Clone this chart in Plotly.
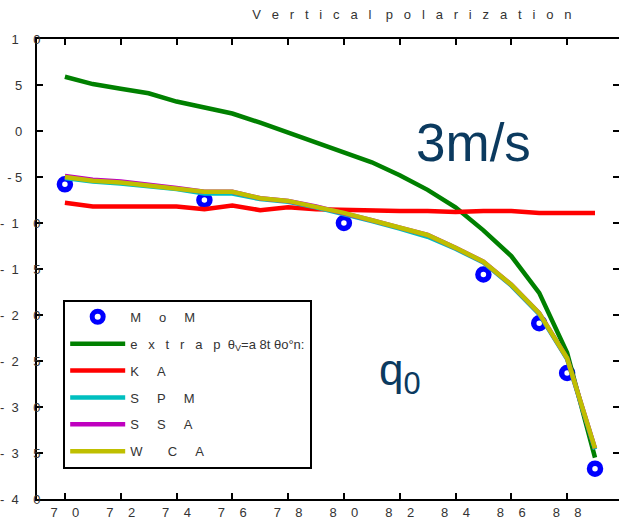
import plotly.graph_objects as go

NB = "\u00a0"

def spaced(s, n=3):
    return (NB * n).join(list(s))

# ---- data ----
x_lines = [70, 71, 72, 73, 74, 75, 76, 77, 78, 79, 80, 81, 82, 83, 84, 85, 86, 87, 88, 89]
extrap = [5.9, 5.1, 4.6, 4.1, 3.2, 2.5, 1.9, 0.9, -0.2, -1.2, -2.3, -3.4, -4.8, -6.4, -8.3, -10.8, -13.6, -17.6, -24.1, -35.5]
ka = [-7.8, -8.2, -8.2, -8.2, -8.2, -8.5, -8.1, -8.6, -8.3, -8.5, -8.6, -8.7, -8.7, -8.7, -8.8, -8.7, -8.7, -8.9, -8.9, -8.9]
wca = [-5.0, -5.4, -5.6, -5.9, -6.2, -6.6, -6.6, -7.3, -7.6, -8.2, -8.9, -9.7, -10.5, -11.3, -12.7, -14.2, -16.7, -19.8, -24.7, -34.5]
spm = [-5.1, -5.5, -5.7, -6.0, -6.3, -6.8, -6.8, -7.4, -7.7, -8.3, -9.0, -9.8, -10.6, -11.5, -12.8, -14.3, -16.8, -19.9, -24.8, -34.6]
ssa = [-4.9, -5.3, -5.5, -5.8, -6.2, -6.6, -6.6, -7.3, -7.6, -8.2, -8.9, -9.7, -10.5, -11.3, -12.7, -14.2, -16.7, -19.8, -24.7, -34.5]
x_mom = [70, 75, 80, 85, 87, 88, 89]
mom = [-5.8, -7.5, -10.0, -15.6, -20.9, -26.3, -36.7]

x_ticks = [70, 72, 74, 76, 78, 80, 82, 84, 86, 88]
y_ticks = [10, 5, 0, -5, -10, -15, -20, -25, -30, -35, -40]

def xlab(v):
    s = str(v)
    return s[0] + NB * 4 + s[1]

def ylab(v):
    if v == 10:
        return "1" + NB * 4 + "0"
    if v in (5, 0):
        return str(v) + NB * 5
    if v == -5:
        return "-" + NB * 1 + "5" + NB * 5
    s = str(abs(v))
    return "-" + NB * 2 + s[0] + NB * 4 + s[1]

FONT = "Liberation Sans Narrow, Arial Narrow, Liberation Sans, sans-serif"

fig = go.Figure()
fig.add_trace(go.Scatter(x=x_mom, y=mom, mode="markers", name=spaced("MoM", 5),
                         legendgroup="a",
                         marker=dict(symbol="circle", size=11, color="white",
                                     line=dict(color="#0000ff", width=5.5))))
fig.add_trace(go.Scatter(x=x_lines, y=extrap, mode="lines", legendgroup="b",
                         name=spaced("extrap", 3) + NB * 2 + "θ<sub>V</sub>" + "=" + "a" + NB + "8t" + NB + "θo°n:",
                         line=dict(color="#008000", width=4.5)))
fig.add_trace(go.Scatter(x=x_lines, y=ka, mode="lines", name=spaced("KA", 5), legendgroup="c",
                         line=dict(color="#ff0000", width=4.5)))
fig.add_trace(go.Scatter(x=x_lines, y=spm, mode="lines", name=spaced("SPM", 5), legendgroup="d",
                         line=dict(color="#00bfbf", width=4.5)))
fig.add_trace(go.Scatter(x=x_lines, y=ssa, mode="lines", name=spaced("SSA", 5), legendgroup="e",
                         line=dict(color="#bf00bf", width=4.5)))
fig.add_trace(go.Scatter(x=x_lines, y=wca, mode="lines", name="W" + NB * 7 + "C" + NB * 5 + "A", legendgroup="f",
                         line=dict(color="#bfbf00", width=4.5)))
# empty trace to activate right-side tick axis
fig.add_trace(go.Scatter(x=[None], y=[None], yaxis="y2", showlegend=False, hoverinfo="skip"))

fig.add_annotation(x=84.66, y=-1.2, xref="x", yref="y", text="3m/s", showarrow=False,
                   font=dict(family="Liberation Sans, Arial, sans-serif", size=53, color="#0b3a5f"))
fig.add_annotation(x=82.0, y=-26.3, xref="x", yref="y", text="q<sub>0</sub>", showarrow=False,
                   font=dict(family="Liberation Sans, Arial, sans-serif", size=44, color="#0b3a5f"))

fig.update_layout(
    width=619, height=521,
    margin=dict(l=37, r=0, t=39, b=22),
    paper_bgcolor="white", plot_bgcolor="white",
    title=dict(text=spaced("Vertical", 3) + NB * 4 + spaced("polarization", 3),
               x=0.644, xref="paper", xanchor="center", y=0.972, yanchor="middle",
               font=dict(family=FONT, size=13, color="#333")),
    xaxis=dict(range=[69, 89.86], tickvals=x_ticks, ticktext=[xlab(v) for v in x_ticks],
               ticks="inside", ticklen=6, tickwidth=1.5, tickcolor="black",
               showline=True, linewidth=2, linecolor="black", mirror="ticks",
               showgrid=False, zeroline=False, automargin=False,
               tickfont=dict(family=FONT, size=13, color="#333")),
    yaxis=dict(range=[-40, 10], tickvals=y_ticks, ticktext=[ylab(v) for v in y_ticks],
               ticks="inside", ticklen=6, tickwidth=1.5, tickcolor="black",
               showline=True, linewidth=2, linecolor="black", mirror=False,
               showgrid=False, zeroline=False, ticklabelstandoff=-8, automargin=False,
               tickfont=dict(family=FONT, size=13, color="#333")),
    yaxis2=dict(range=[-40, 10], overlaying="y", side="right", tickvals=y_ticks,
                ticks="inside", ticklen=6, tickwidth=1.5, tickcolor="black", automargin=False,
                showticklabels=False, showline=False, showgrid=False, zeroline=False),
    legend=dict(x=0.045, y=0.433, xanchor="left", yanchor="top",
                bordercolor="black", borderwidth=2, bgcolor="white",
                tracegroupgap=7, itemwidth=55,
                font=dict(family=FONT, size=13, color="#333")),
    showlegend=True,
)

fig.write_html("out.html")
